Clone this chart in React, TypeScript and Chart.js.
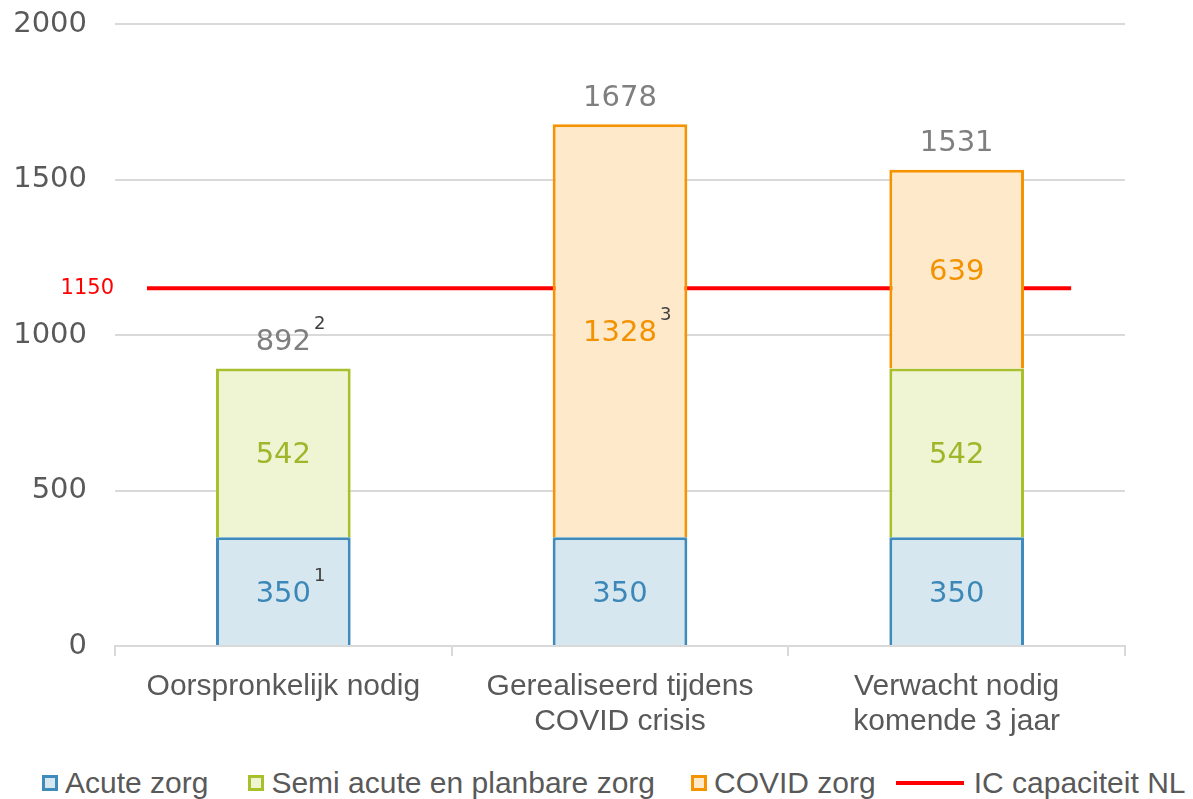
import React, { useEffect, useRef } from "react";
import { Chart, registerables } from "chart.js";

Chart.register(...registerables);

const categories = [
  ["Oorspronkelijk nodig"],
  ["Gerealiseerd tijdens", "COVID crisis"],
  ["Verwacht nodig", "komende 3 jaar"],
];
const acuteZorg = [350, 350, 350];
const semiAcuteZorg = [542, null, 542];
const covidZorg = [null, 1328, 639];
const totals = [892, 1678, 1531];
const acuteNotes = ["1", "", ""];
const semiNotes = ["", "", ""];
const covidNotes = ["", "3", ""];
const totalNotes = ["2", "", ""];
const icCapacity = 1150;
const icLineStart = -0.405;
const icLineEnd = 2.34;
const yMin = 0;
const yMax = 2000;
const yStep = 500;

const seriesNames = ["Acute zorg", "Semi acute en planbare zorg", "COVID zorg", "IC capaciteit NL"];

const COLORS = {
  acuteFill: "#d7e7f0",
  acuteBorder: "#3f8cbc",
  acuteText: "#3b88b8",
  semiFill: "#eff4d2",
  semiBorder: "#a9c02c",
  semiText: "#a0b62a",
  covidFill: "#fee9cb",
  covidBorder: "#f59300",
  covidText: "#f39200",
  line: "#ff0000",
  total: "#7f7f7f",
  note: "#404040",
  axisText: "#595959",
  grid: "#d9d9d9",
};

const NUM_FONT = "'DejaVu Sans', Verdana, sans-serif";
const TXT_FONT = "'Liberation Sans', Arial, sans-serif";

const labelsPlugin = {
  id: "segmentLabels",
  afterDatasetsDraw(chart: any) {
    const ctx = chart.ctx;
    const yScale = chart.scales.y;
    ctx.save();
    const drawWithNote = (text: string, note: string, x: number, y: number, color: string) => {
      ctx.font = `29px ${NUM_FONT}`;
      ctx.fillStyle = color;
      ctx.textAlign = "center";
      ctx.textBaseline = "middle";
      ctx.fillText(text, x, y);
      if (note) {
        const w = ctx.measureText(text).width;
        ctx.font = `18px ${NUM_FONT}`;
        ctx.fillStyle = COLORS.note;
        ctx.textAlign = "left";
        ctx.fillText(note, x + w / 2 + 3, y - 18);
      }
    };
    const segs = [
      { data: acuteZorg, notes: acuteNotes, color: COLORS.acuteText },
      { data: semiAcuteZorg, notes: semiNotes, color: COLORS.semiText },
      { data: covidZorg, notes: covidNotes, color: COLORS.covidText },
    ];
    segs.forEach((s, di) => {
      const meta = chart.getDatasetMeta(di);
      s.data.forEach((v, j) => {
        if (v === null || v === undefined) return;
        const el = meta.data[j];
        const cy = (el.y + el.base) / 2 + 3;
        drawWithNote(String(v), s.notes[j], el.x, cy, s.color);
      });
    });
    const meta0 = chart.getDatasetMeta(0);
    totals.forEach((t, j) => {
      const x = meta0.data[j].x;
      const y = yScale.getPixelForValue(t) - 26;
      drawWithNote(String(t), totalNotes[j], x, y, COLORS.total);
    });
    ctx.font = `21px ${NUM_FONT}`;
    ctx.fillStyle = COLORS.line;
    ctx.textAlign = "right";
    ctx.textBaseline = "middle";
    ctx.fillText(String(icCapacity), chart.chartArea.left - 1, yScale.getPixelForValue(icCapacity));
    ctx.restore();
  },
};

function App() {
  const canvasRef = useRef<HTMLCanvasElement | null>(null);

  useEffect(() => {
    if (!canvasRef.current) return;
    const barCommon = {
      type: "bar" as const,
      borderWidth: 3,
      barPercentage: 0.4,
      categoryPercentage: 1,
      grouped: false,
      xAxisID: "x",
      yAxisID: "y",
      stack: "zorg",
      order: 1,
    };
    const chart = new Chart(canvasRef.current, {
      type: "bar",
      data: {
        labels: categories as any,
        datasets: [
          {
            ...barCommon,
            label: seriesNames[0],
            data: acuteZorg as any,
            backgroundColor: COLORS.acuteFill,
            borderColor: COLORS.acuteBorder,
          },
          {
            ...barCommon,
            label: seriesNames[1],
            data: semiAcuteZorg as any,
            backgroundColor: COLORS.semiFill,
            borderColor: COLORS.semiBorder,
          },
          {
            ...barCommon,
            label: seriesNames[2],
            data: covidZorg as any,
            backgroundColor: COLORS.covidFill,
            borderColor: COLORS.covidBorder,
          },
          {
            type: "line" as const,
            label: seriesNames[3],
            data: [
              { x: icLineStart, y: icCapacity },
              { x: icLineEnd, y: icCapacity },
            ] as any,
            borderColor: COLORS.line,
            backgroundColor: COLORS.line,
            borderWidth: 4,
            pointRadius: 0,
            xAxisID: "xLine",
            yAxisID: "y",
            stack: "capacity",
            order: 2,
          } as any,
        ],
      },
      options: {
        responsive: true,
        maintainAspectRatio: false,
        animation: false,
        layout: { padding: { top: 24, right: 68, left: 0, bottom: 0 } },
        plugins: {
          legend: { display: false },
          tooltip: { enabled: false },
        },
        scales: {
          x: {
            type: "category",
            stacked: true,
            offset: true,
            grid: {
              offset: true,
              drawOnChartArea: false,
              drawTicks: true,
              tickLength: 10,
              color: COLORS.grid,
              lineWidth: 2,
            },
            border: { display: true, color: COLORS.grid, width: 2 },
            ticks: {
              font: { family: TXT_FONT, size: 30, lineHeight: 1.18 },
              color: COLORS.axisText,
              padding: 13,
              maxRotation: 0,
              autoSkip: false,
            },
            afterFit: (s: any) => {
              s.height = 109;
            },
          },
          xLine: {
            type: "linear",
            axis: "x",
            position: "bottom",
            display: false,
            offset: false,
            grace: 0,
            min: -0.5,
            max: 2.5,
          },
          y: {
            stacked: true,
            min: yMin,
            max: yMax,
            grid: { color: COLORS.grid, lineWidth: 2, drawTicks: false },
            border: { display: false },
            ticks: {
              stepSize: yStep,
              font: { family: NUM_FONT, size: 29 },
              color: COLORS.axisText,
              padding: 28,
              callback: (v: any) => String(v),
            },
            afterFit: (s: any) => {
              s.width = 115;
              s.paddingTop = 0;
              s.paddingBottom = 0;
            },
          },
        },
      } as any,
      plugins: [labelsPlugin],
    });
    return () => chart.destroy();
  }, []);

  const legendItem = (fill: string, border: string, text: string, ml: number) => (
    <div style={{ display: "flex", alignItems: "center", marginLeft: ml }}>
      <div
        style={{
          width: 16,
          height: 16,
          boxSizing: "border-box",
          background: fill,
          border: `3px solid ${border}`,
          marginRight: 7,
        }}
      />
      <span>{text}</span>
    </div>
  );

  return (
    <div style={{ position: "absolute", left: 0, top: 0, width: 1193, height: 799, background: "#fff" }}>
      <div style={{ position: "absolute", left: 0, top: 0, width: 1193, height: 755 }}>
        <canvas ref={canvasRef} />
      </div>
      <div
        style={{
          position: "absolute",
          left: 0,
          top: 764,
          height: 38,
          display: "flex",
          alignItems: "center",
          fontFamily: TXT_FONT,
          fontSize: 30,
          color: COLORS.axisText,
          whiteSpace: "nowrap",
        }}
      >
        {legendItem(COLORS.acuteFill, COLORS.acuteBorder, seriesNames[0], 42)}
        {legendItem(COLORS.semiFill, COLORS.semiBorder, seriesNames[1], 40)}
        {legendItem(COLORS.covidFill, COLORS.covidBorder, seriesNames[2], 36)}
        <div style={{ display: "flex", alignItems: "center", marginLeft: 20 }}>
          <div style={{ width: 68, height: 4, background: COLORS.line, marginRight: 10 }} />
          <span>{seriesNames[3]}</span>
        </div>
      </div>
    </div>
  );
}

export default App;
